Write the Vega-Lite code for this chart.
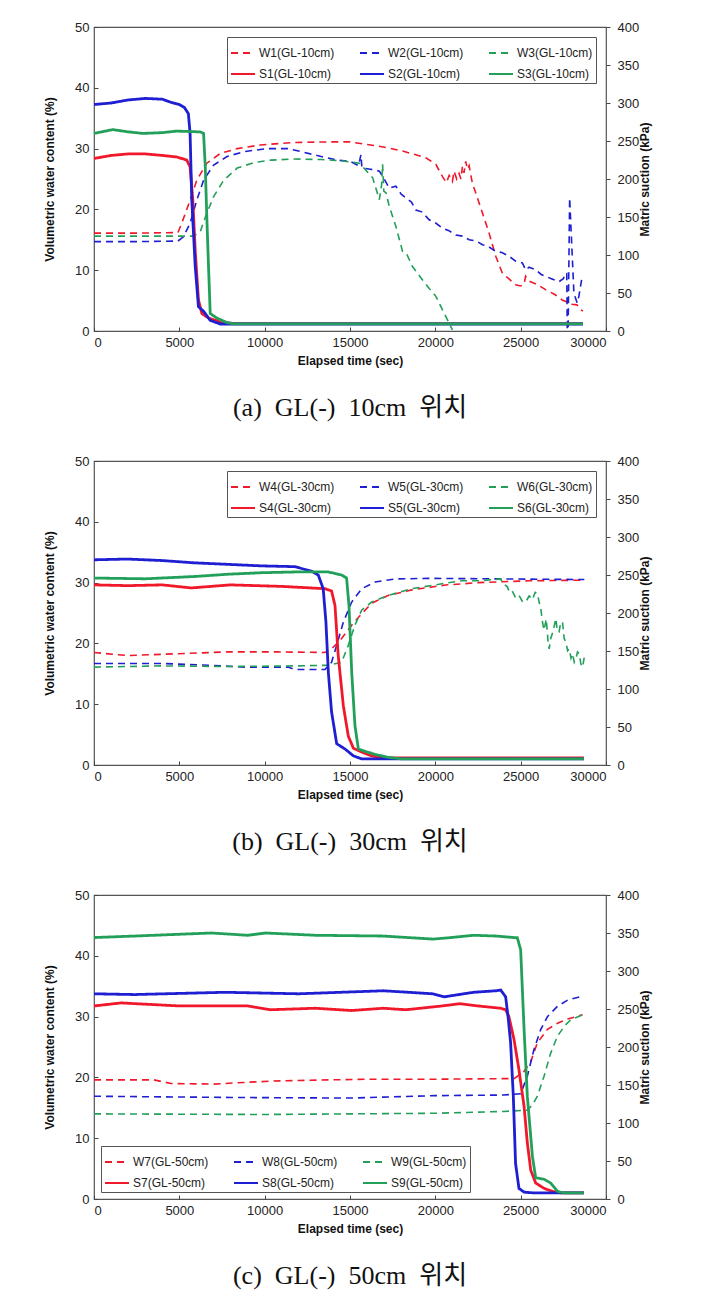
{
  "$schema": "https://vega.github.io/schema/vega-lite/v6.json",
  "background": "white",
  "padding": {"left": 42, "top": 20, "right": 5, "bottom": 5},
  "spacing": 32,
  "config": {
    "font": "Liberation Sans",
    "view": {"stroke": "#555", "strokeWidth": 1.2},
    "axis": {"labelFont": "Liberation Sans", "labelFontSize": 13, "labelColor": "#222", "titleFont": "Liberation Sans", "titleFontSize": 12, "titleFontWeight": "bold", "titleColor": "#111", "grid": false, "domain": false, "tickColor": "#444", "tickSize": 4, "labelPadding": 5},
    "axisBottom": {"titlePadding": 6, "tickSize": -4, "labelPadding": 9},
    "axisLeft": {"titlePadding": 18, "tickSize": -4, "labelPadding": 9},
    "axisRight": {"titlePadding": 13, "labelPadding": 7},
    "legend": {"title": null, "columns": 3, "direction": "horizontal", "symbolType": "stroke", "symbolSize": 576, "symbolStrokeWidth": 2, "labelFontSize": 12, "labelFont": "Liberation Sans", "labelColor": "#222", "labelOffset": 3, "labelLimit": 0, "strokeColor": "#555", "fillColor": "#ffffff", "padding": 3, "rowPadding": 2, "columnPadding": 21}
  },
  "datasets": {
    "aW": [
      {"s":"W1(GL-10cm)","t":0,"v":16.1},{"s":"W1(GL-10cm)","t":2500,"v":16.1},{"s":"W1(GL-10cm)","t":4920,"v":16.2},{"s":"W1(GL-10cm)","t":5140,"v":17.7},{"s":"W1(GL-10cm)","t":5630,"v":21.5},{"s":"W1(GL-10cm)","t":6020,"v":24.8},{"s":"W1(GL-10cm)","t":6610,"v":27.6},{"s":"W1(GL-10cm)","t":7400,"v":29.2},{"s":"W1(GL-10cm)","t":8390,"v":30.0},{"s":"W1(GL-10cm)","t":9760,"v":30.6},{"s":"W1(GL-10cm)","t":11730,"v":31.0},{"s":"W1(GL-10cm)","t":13700,"v":31.1},{"s":"W1(GL-10cm)","t":15000,"v":31.1},{"s":"W1(GL-10cm)","t":16700,"v":30.4},{"s":"W1(GL-10cm)","t":18080,"v":29.6},{"s":"W1(GL-10cm)","t":19440,"v":28.5},{"s":"W1(GL-10cm)","t":20030,"v":27.4},{"s":"W1(GL-10cm)","t":20420,"v":25.4},{"s":"W1(GL-10cm)","t":20650,"v":24.4},{"s":"W1(GL-10cm)","t":20810,"v":25.6},{"s":"W1(GL-10cm)","t":21000,"v":24.6},{"s":"W1(GL-10cm)","t":21100,"v":26.3},{"s":"W1(GL-10cm)","t":21250,"v":25.0},{"s":"W1(GL-10cm)","t":21390,"v":25.9},{"s":"W1(GL-10cm)","t":21500,"v":25.0},{"s":"W1(GL-10cm)","t":21590,"v":27.1},{"s":"W1(GL-10cm)","t":21680,"v":26.0},{"s":"W1(GL-10cm)","t":21780,"v":27.9},{"s":"W1(GL-10cm)","t":21880,"v":26.6},{"s":"W1(GL-10cm)","t":21980,"v":27.2},{"s":"W1(GL-10cm)","t":22170,"v":24.3},{"s":"W1(GL-10cm)","t":22370,"v":22.7},{"s":"W1(GL-10cm)","t":22750,"v":19.5},{"s":"W1(GL-10cm)","t":23150,"v":16.1},{"s":"W1(GL-10cm)","t":23540,"v":12.3},{"s":"W1(GL-10cm)","t":23930,"v":9.5},{"s":"W1(GL-10cm)","t":24300,"v":8.6},{"s":"W1(GL-10cm)","t":24710,"v":7.6},{"s":"W1(GL-10cm)","t":25000,"v":7.4},{"s":"W1(GL-10cm)","t":25200,"v":7.7},{"s":"W1(GL-10cm)","t":25290,"v":9.0},{"s":"W1(GL-10cm)","t":25500,"v":8.2},{"s":"W1(GL-10cm)","t":26000,"v":7.6},{"s":"W1(GL-10cm)","t":26460,"v":6.8},{"s":"W1(GL-10cm)","t":27000,"v":6.0},{"s":"W1(GL-10cm)","t":27440,"v":5.1},{"s":"W1(GL-10cm)","t":28000,"v":4.4},{"s":"W1(GL-10cm)","t":28300,"v":4.3},{"s":"W1(GL-10cm)","t":28510,"v":3.5},{"s":"W1(GL-10cm)","t":28650,"v":3.3},
      {"s":"W2(GL-10cm)","t":0,"v":14.7},{"s":"W2(GL-10cm)","t":2500,"v":14.7},{"s":"W2(GL-10cm)","t":4920,"v":14.8},{"s":"W2(GL-10cm)","t":5240,"v":15.5},{"s":"W2(GL-10cm)","t":5630,"v":17.7},{"s":"W2(GL-10cm)","t":6020,"v":21.5},{"s":"W2(GL-10cm)","t":6420,"v":24.8},{"s":"W2(GL-10cm)","t":7010,"v":27.3},{"s":"W2(GL-10cm)","t":7800,"v":28.7},{"s":"W2(GL-10cm)","t":8780,"v":29.5},{"s":"W2(GL-10cm)","t":10160,"v":30.0},{"s":"W2(GL-10cm)","t":11340,"v":30.0},{"s":"W2(GL-10cm)","t":12130,"v":29.5},{"s":"W2(GL-10cm)","t":13310,"v":28.7},{"s":"W2(GL-10cm)","t":14290,"v":28.1},{"s":"W2(GL-10cm)","t":15000,"v":27.9},{"s":"W2(GL-10cm)","t":15500,"v":27.2},{"s":"W2(GL-10cm)","t":15640,"v":29.0},{"s":"W2(GL-10cm)","t":15700,"v":26.8},{"s":"W2(GL-10cm)","t":16200,"v":26.6},{"s":"W2(GL-10cm)","t":16720,"v":26.3},{"s":"W2(GL-10cm)","t":17000,"v":25.0},{"s":"W2(GL-10cm)","t":17300,"v":23.5},{"s":"W2(GL-10cm)","t":17690,"v":23.8},{"s":"W2(GL-10cm)","t":18000,"v":22.5},{"s":"W2(GL-10cm)","t":18270,"v":21.9},{"s":"W2(GL-10cm)","t":18600,"v":21.2},{"s":"W2(GL-10cm)","t":18860,"v":19.9},{"s":"W2(GL-10cm)","t":19200,"v":19.6},{"s":"W2(GL-10cm)","t":19640,"v":18.3},{"s":"W2(GL-10cm)","t":20000,"v":17.8},{"s":"W2(GL-10cm)","t":20420,"v":16.9},{"s":"W2(GL-10cm)","t":20800,"v":16.5},{"s":"W2(GL-10cm)","t":21200,"v":15.8},{"s":"W2(GL-10cm)","t":21600,"v":15.6},{"s":"W2(GL-10cm)","t":21980,"v":15.0},{"s":"W2(GL-10cm)","t":22400,"v":14.8},{"s":"W2(GL-10cm)","t":22760,"v":14.2},{"s":"W2(GL-10cm)","t":23100,"v":13.9},{"s":"W2(GL-10cm)","t":23540,"v":13.1},{"s":"W2(GL-10cm)","t":23900,"v":12.9},{"s":"W2(GL-10cm)","t":24320,"v":12.3},{"s":"W2(GL-10cm)","t":24700,"v":11.5},{"s":"W2(GL-10cm)","t":25100,"v":11.2},{"s":"W2(GL-10cm)","t":25300,"v":10.0},{"s":"W2(GL-10cm)","t":25490,"v":10.5},{"s":"W2(GL-10cm)","t":25880,"v":10.1},{"s":"W2(GL-10cm)","t":26200,"v":9.3},{"s":"W2(GL-10cm)","t":26460,"v":9.0},{"s":"W2(GL-10cm)","t":26800,"v":8.6},{"s":"W2(GL-10cm)","t":27240,"v":8.1},{"s":"W2(GL-10cm)","t":27500,"v":8.6},{"s":"W2(GL-10cm)","t":27630,"v":9.5},{"s":"W2(GL-10cm)","t":27700,"v":9.5},{"s":"W2(GL-10cm)","t":27730,"v":0.2},{"s":"W2(GL-10cm)","t":27780,"v":0.2},{"s":"W2(GL-10cm)","t":27870,"v":21.9},{"s":"W2(GL-10cm)","t":27980,"v":15.0},{"s":"W2(GL-10cm)","t":28120,"v":6.2},{"s":"W2(GL-10cm)","t":28310,"v":4.6},{"s":"W2(GL-10cm)","t":28410,"v":5.7},{"s":"W2(GL-10cm)","t":28570,"v":8.4},
      {"s":"W3(GL-10cm)","t":0,"v":15.6},{"s":"W3(GL-10cm)","t":2500,"v":15.6},{"s":"W3(GL-10cm)","t":5830,"v":15.6},{"s":"W3(GL-10cm)","t":6220,"v":16.3},{"s":"W3(GL-10cm)","t":6610,"v":19.4},{"s":"W3(GL-10cm)","t":7010,"v":22.1},{"s":"W3(GL-10cm)","t":7600,"v":24.8},{"s":"W3(GL-10cm)","t":8390,"v":26.8},{"s":"W3(GL-10cm)","t":9370,"v":27.7},{"s":"W3(GL-10cm)","t":10350,"v":28.1},{"s":"W3(GL-10cm)","t":11730,"v":28.3},{"s":"W3(GL-10cm)","t":13310,"v":28.2},{"s":"W3(GL-10cm)","t":14490,"v":28.0},{"s":"W3(GL-10cm)","t":15550,"v":27.6},{"s":"W3(GL-10cm)","t":16330,"v":25.2},{"s":"W3(GL-10cm)","t":16720,"v":21.6},{"s":"W3(GL-10cm)","t":16850,"v":24.0},{"s":"W3(GL-10cm)","t":16910,"v":27.4},{"s":"W3(GL-10cm)","t":16980,"v":23.0},{"s":"W3(GL-10cm)","t":17110,"v":22.7},{"s":"W3(GL-10cm)","t":17300,"v":20.5},{"s":"W3(GL-10cm)","t":17690,"v":17.2},{"s":"W3(GL-10cm)","t":18080,"v":13.1},{"s":"W3(GL-10cm)","t":18300,"v":12.8},{"s":"W3(GL-10cm)","t":18660,"v":10.6},{"s":"W3(GL-10cm)","t":19250,"v":8.4},{"s":"W3(GL-10cm)","t":19640,"v":7.0},{"s":"W3(GL-10cm)","t":20030,"v":5.7},{"s":"W3(GL-10cm)","t":20520,"v":2.9},{"s":"W3(GL-10cm)","t":21000,"v":0.2}
    ],
    "aS": [
      {"s":"S1(GL-10cm)","t":0,"v":227},{"s":"S1(GL-10cm)","t":1000,"v":231},{"s":"S1(GL-10cm)","t":2000,"v":233},{"s":"S1(GL-10cm)","t":3000,"v":233},{"s":"S1(GL-10cm)","t":4000,"v":231},{"s":"S1(GL-10cm)","t":4840,"v":229},{"s":"S1(GL-10cm)","t":5430,"v":225},{"s":"S1(GL-10cm)","t":5630,"v":216},{"s":"S1(GL-10cm)","t":5790,"v":172},{"s":"S1(GL-10cm)","t":5930,"v":106},{"s":"S1(GL-10cm)","t":6120,"v":41},{"s":"S1(GL-10cm)","t":6320,"v":23},{"s":"S1(GL-10cm)","t":6710,"v":17},{"s":"S1(GL-10cm)","t":7400,"v":12},{"s":"S1(GL-10cm)","t":8190,"v":9.8},{"s":"S1(GL-10cm)","t":28650,"v":9.8},
      {"s":"S2(GL-10cm)","t":0,"v":298},{"s":"S2(GL-10cm)","t":1000,"v":300},{"s":"S2(GL-10cm)","t":2000,"v":304},{"s":"S2(GL-10cm)","t":3000,"v":306},{"s":"S2(GL-10cm)","t":4000,"v":305},{"s":"S2(GL-10cm)","t":4500,"v":301},{"s":"S2(GL-10cm)","t":5000,"v":298},{"s":"S2(GL-10cm)","t":5300,"v":294},{"s":"S2(GL-10cm)","t":5530,"v":286},{"s":"S2(GL-10cm)","t":5630,"v":260},{"s":"S2(GL-10cm)","t":5730,"v":172},{"s":"S2(GL-10cm)","t":5930,"v":85},{"s":"S2(GL-10cm)","t":6120,"v":32},{"s":"S2(GL-10cm)","t":6420,"v":26},{"s":"S2(GL-10cm)","t":6810,"v":14},{"s":"S2(GL-10cm)","t":7400,"v":9.2},{"s":"S2(GL-10cm)","t":28650,"v":9.2},
      {"s":"S3(GL-10cm)","t":0,"v":260},{"s":"S3(GL-10cm)","t":1100,"v":265},{"s":"S3(GL-10cm)","t":2000,"v":262},{"s":"S3(GL-10cm)","t":2870,"v":260},{"s":"S3(GL-10cm)","t":4000,"v":261},{"s":"S3(GL-10cm)","t":4840,"v":263},{"s":"S3(GL-10cm)","t":6220,"v":262},{"s":"S3(GL-10cm)","t":6420,"v":260},{"s":"S3(GL-10cm)","t":6520,"v":216},{"s":"S3(GL-10cm)","t":6610,"v":150},{"s":"S3(GL-10cm)","t":6710,"v":85},{"s":"S3(GL-10cm)","t":6810,"v":23},{"s":"S3(GL-10cm)","t":7200,"v":17},{"s":"S3(GL-10cm)","t":7800,"v":11},{"s":"S3(GL-10cm)","t":8190,"v":9.4},{"s":"S3(GL-10cm)","t":28650,"v":9.4}
    ],
    "bW": [
      {"s":"W4(GL-30cm)","t":0,"v":18.5},{"s":"W4(GL-30cm)","t":1960,"v":18.0},{"s":"W4(GL-30cm)","t":4900,"v":18.3},{"s":"W4(GL-30cm)","t":7840,"v":18.6},{"s":"W4(GL-30cm)","t":10780,"v":18.6},{"s":"W4(GL-30cm)","t":13530,"v":18.5},{"s":"W4(GL-30cm)","t":13920,"v":19.1},{"s":"W4(GL-30cm)","t":14510,"v":20.8},{"s":"W4(GL-30cm)","t":15100,"v":23.0},{"s":"W4(GL-30cm)","t":15690,"v":24.9},{"s":"W4(GL-30cm)","t":16270,"v":26.6},{"s":"W4(GL-30cm)","t":17250,"v":27.9},{"s":"W4(GL-30cm)","t":18630,"v":28.8},{"s":"W4(GL-30cm)","t":20590,"v":29.6},{"s":"W4(GL-30cm)","t":22550,"v":30.0},{"s":"W4(GL-30cm)","t":25490,"v":30.3},{"s":"W4(GL-30cm)","t":28730,"v":30.4},
      {"s":"W5(GL-30cm)","t":0,"v":16.7},{"s":"W5(GL-30cm)","t":3920,"v":16.7},{"s":"W5(GL-30cm)","t":6860,"v":16.4},{"s":"W5(GL-30cm)","t":8820,"v":16.1},{"s":"W5(GL-30cm)","t":11370,"v":16.1},{"s":"W5(GL-30cm)","t":11760,"v":15.7},{"s":"W5(GL-30cm)","t":13530,"v":15.7},{"s":"W5(GL-30cm)","t":13920,"v":16.9},{"s":"W5(GL-30cm)","t":14220,"v":19.7},{"s":"W5(GL-30cm)","t":14610,"v":23.5},{"s":"W5(GL-30cm)","t":15100,"v":26.8},{"s":"W5(GL-30cm)","t":15690,"v":29.0},{"s":"W5(GL-30cm)","t":16470,"v":30.1},{"s":"W5(GL-30cm)","t":17650,"v":30.6},{"s":"W5(GL-30cm)","t":19610,"v":30.7},{"s":"W5(GL-30cm)","t":28730,"v":30.5},
      {"s":"W6(GL-30cm)","t":0,"v":16.1},{"s":"W6(GL-30cm)","t":3920,"v":16.3},{"s":"W6(GL-30cm)","t":7840,"v":16.2},{"s":"W6(GL-30cm)","t":11760,"v":16.3},{"s":"W6(GL-30cm)","t":13730,"v":16.4},{"s":"W6(GL-30cm)","t":14510,"v":16.9},{"s":"W6(GL-30cm)","t":14900,"v":19.7},{"s":"W6(GL-30cm)","t":15290,"v":23.0},{"s":"W6(GL-30cm)","t":15690,"v":25.5},{"s":"W6(GL-30cm)","t":16270,"v":26.8},{"s":"W6(GL-30cm)","t":17250,"v":27.9},{"s":"W6(GL-30cm)","t":18630,"v":29.0},{"s":"W6(GL-30cm)","t":20590,"v":29.9},{"s":"W6(GL-30cm)","t":21570,"v":30.3},{"s":"W6(GL-30cm)","t":22550,"v":30.3},{"s":"W6(GL-30cm)","t":23820,"v":30.6},{"s":"W6(GL-30cm)","t":24000,"v":29.8},{"s":"W6(GL-30cm)","t":24220,"v":29.3},{"s":"W6(GL-30cm)","t":24350,"v":28.4},{"s":"W6(GL-30cm)","t":24510,"v":28.6},{"s":"W6(GL-30cm)","t":24700,"v":27.5},{"s":"W6(GL-30cm)","t":24900,"v":27.9},{"s":"W6(GL-30cm)","t":25100,"v":26.9},{"s":"W6(GL-30cm)","t":25290,"v":26.8},{"s":"W6(GL-30cm)","t":25500,"v":27.8},{"s":"W6(GL-30cm)","t":25690,"v":27.2},{"s":"W6(GL-30cm)","t":25850,"v":28.4},{"s":"W6(GL-30cm)","t":25980,"v":28.2},{"s":"W6(GL-30cm)","t":26080,"v":26.8},{"s":"W6(GL-30cm)","t":26180,"v":25.7},{"s":"W6(GL-30cm)","t":26280,"v":23.5},{"s":"W6(GL-30cm)","t":26370,"v":22.2},{"s":"W6(GL-30cm)","t":26500,"v":24.0},{"s":"W6(GL-30cm)","t":26600,"v":20.5},{"s":"W6(GL-30cm)","t":26670,"v":19.1},{"s":"W6(GL-30cm)","t":26760,"v":20.8},{"s":"W6(GL-30cm)","t":26900,"v":22.0},{"s":"W6(GL-30cm)","t":27060,"v":24.1},{"s":"W6(GL-30cm)","t":27150,"v":22.0},{"s":"W6(GL-30cm)","t":27250,"v":21.9},{"s":"W6(GL-30cm)","t":27350,"v":23.5},{"s":"W6(GL-30cm)","t":27450,"v":23.5},{"s":"W6(GL-30cm)","t":27550,"v":20.8},{"s":"W6(GL-30cm)","t":27650,"v":20.2},{"s":"W6(GL-30cm)","t":27750,"v":18.8},{"s":"W6(GL-30cm)","t":27840,"v":19.1},{"s":"W6(GL-30cm)","t":27950,"v":17.6},{"s":"W6(GL-30cm)","t":28040,"v":18.3},{"s":"W6(GL-30cm)","t":28140,"v":16.9},{"s":"W6(GL-30cm)","t":28240,"v":17.5},{"s":"W6(GL-30cm)","t":28330,"v":18.6},{"s":"W6(GL-30cm)","t":28430,"v":18.3},{"s":"W6(GL-30cm)","t":28530,"v":16.6},{"s":"W6(GL-30cm)","t":28630,"v":16.1},{"s":"W6(GL-30cm)","t":28730,"v":17.8}
    ],
    "bS": [
      {"s":"S4(GL-30cm)","t":0,"v":237},{"s":"S4(GL-30cm)","t":2000,"v":236},{"s":"S4(GL-30cm)","t":4000,"v":237},{"s":"S4(GL-30cm)","t":5690,"v":233},{"s":"S4(GL-30cm)","t":8000,"v":237},{"s":"S4(GL-30cm)","t":11000,"v":235},{"s":"S4(GL-30cm)","t":13530,"v":232},{"s":"S4(GL-30cm)","t":13920,"v":229},{"s":"S4(GL-30cm)","t":14120,"v":210},{"s":"S4(GL-30cm)","t":14310,"v":144},{"s":"S4(GL-30cm)","t":14610,"v":78},{"s":"S4(GL-30cm)","t":14900,"v":38},{"s":"S4(GL-30cm)","t":15200,"v":22},{"s":"S4(GL-30cm)","t":15690,"v":17},{"s":"S4(GL-30cm)","t":16270,"v":12},{"s":"S4(GL-30cm)","t":17060,"v":9.2},{"s":"S4(GL-30cm)","t":28700,"v":9.2},
      {"s":"S5(GL-30cm)","t":0,"v":270},{"s":"S5(GL-30cm)","t":1960,"v":271},{"s":"S5(GL-30cm)","t":4000,"v":269},{"s":"S5(GL-30cm)","t":5880,"v":266},{"s":"S5(GL-30cm)","t":7840,"v":264},{"s":"S5(GL-30cm)","t":9800,"v":262},{"s":"S5(GL-30cm)","t":11760,"v":261},{"s":"S5(GL-30cm)","t":12750,"v":255},{"s":"S5(GL-30cm)","t":13140,"v":250},{"s":"S5(GL-30cm)","t":13430,"v":232},{"s":"S5(GL-30cm)","t":13590,"v":188},{"s":"S5(GL-30cm)","t":13730,"v":122},{"s":"S5(GL-30cm)","t":13920,"v":70},{"s":"S5(GL-30cm)","t":14220,"v":28},{"s":"S5(GL-30cm)","t":14710,"v":21},{"s":"S5(GL-30cm)","t":15200,"v":12},{"s":"S5(GL-30cm)","t":15690,"v":8},{"s":"S5(GL-30cm)","t":28700,"v":8},
      {"s":"S6(GL-30cm)","t":0,"v":246},{"s":"S6(GL-30cm)","t":3000,"v":245},{"s":"S6(GL-30cm)","t":5880,"v":248},{"s":"S6(GL-30cm)","t":7840,"v":251},{"s":"S6(GL-30cm)","t":9800,"v":253},{"s":"S6(GL-30cm)","t":11760,"v":254},{"s":"S6(GL-30cm)","t":13730,"v":254},{"s":"S6(GL-30cm)","t":14510,"v":250},{"s":"S6(GL-30cm)","t":14800,"v":246},{"s":"S6(GL-30cm)","t":14940,"v":210},{"s":"S6(GL-30cm)","t":15100,"v":122},{"s":"S6(GL-30cm)","t":15290,"v":52},{"s":"S6(GL-30cm)","t":15490,"v":21},{"s":"S6(GL-30cm)","t":15880,"v":18},{"s":"S6(GL-30cm)","t":16470,"v":14},{"s":"S6(GL-30cm)","t":17250,"v":10},{"s":"S6(GL-30cm)","t":18040,"v":8},{"s":"S6(GL-30cm)","t":28700,"v":8}
    ],
    "cW": [
      {"s":"W7(GL-50cm)","t":0,"v":19.6},{"s":"W7(GL-50cm)","t":3500,"v":19.6},{"s":"W7(GL-50cm)","t":4500,"v":19.0},{"s":"W7(GL-50cm)","t":7000,"v":18.9},{"s":"W7(GL-50cm)","t":9000,"v":19.2},{"s":"W7(GL-50cm)","t":10500,"v":19.4},{"s":"W7(GL-50cm)","t":12000,"v":19.5},{"s":"W7(GL-50cm)","t":16000,"v":19.7},{"s":"W7(GL-50cm)","t":20000,"v":19.7},{"s":"W7(GL-50cm)","t":24000,"v":19.8},{"s":"W7(GL-50cm)","t":24610,"v":19.8},{"s":"W7(GL-50cm)","t":25200,"v":21.0},{"s":"W7(GL-50cm)","t":25590,"v":22.6},{"s":"W7(GL-50cm)","t":25980,"v":25.7},{"s":"W7(GL-50cm)","t":26570,"v":27.9},{"s":"W7(GL-50cm)","t":27160,"v":28.9},{"s":"W7(GL-50cm)","t":27750,"v":29.6},{"s":"W7(GL-50cm)","t":28630,"v":30.3},
      {"s":"W8(GL-50cm)","t":0,"v":16.9},{"s":"W8(GL-50cm)","t":8000,"v":16.7},{"s":"W8(GL-50cm)","t":15000,"v":16.6},{"s":"W8(GL-50cm)","t":20000,"v":17.0},{"s":"W8(GL-50cm)","t":24000,"v":17.1},{"s":"W8(GL-50cm)","t":25000,"v":17.3},{"s":"W8(GL-50cm)","t":25390,"v":20.2},{"s":"W8(GL-50cm)","t":25780,"v":24.6},{"s":"W8(GL-50cm)","t":26180,"v":27.9},{"s":"W8(GL-50cm)","t":26570,"v":30.0},{"s":"W8(GL-50cm)","t":27160,"v":31.7},{"s":"W8(GL-50cm)","t":27750,"v":32.7},{"s":"W8(GL-50cm)","t":28530,"v":33.3},
      {"s":"W9(GL-50cm)","t":0,"v":14.0},{"s":"W9(GL-50cm)","t":10000,"v":13.9},{"s":"W9(GL-50cm)","t":20000,"v":14.1},{"s":"W9(GL-50cm)","t":24000,"v":14.4},{"s":"W9(GL-50cm)","t":25390,"v":14.6},{"s":"W9(GL-50cm)","t":25690,"v":15.5},{"s":"W9(GL-50cm)","t":25980,"v":16.9},{"s":"W9(GL-50cm)","t":26370,"v":20.2},{"s":"W9(GL-50cm)","t":26760,"v":24.0},{"s":"W9(GL-50cm)","t":27160,"v":26.8},{"s":"W9(GL-50cm)","t":27550,"v":28.4},{"s":"W9(GL-50cm)","t":27940,"v":29.5},{"s":"W9(GL-50cm)","t":28630,"v":30.3}
    ],
    "cS": [
      {"s":"S7(GL-50cm)","t":0,"v":254},{"s":"S7(GL-50cm)","t":1590,"v":258},{"s":"S7(GL-50cm)","t":5030,"v":254},{"s":"S7(GL-50cm)","t":9000,"v":254},{"s":"S7(GL-50cm)","t":10330,"v":249},{"s":"S7(GL-50cm)","t":12970,"v":251},{"s":"S7(GL-50cm)","t":15090,"v":248},{"s":"S7(GL-50cm)","t":16950,"v":251},{"s":"S7(GL-50cm)","t":18270,"v":249},{"s":"S7(GL-50cm)","t":20390,"v":254},{"s":"S7(GL-50cm)","t":21450,"v":257},{"s":"S7(GL-50cm)","t":22510,"v":254},{"s":"S7(GL-50cm)","t":23830,"v":251},{"s":"S7(GL-50cm)","t":24120,"v":249},{"s":"S7(GL-50cm)","t":24310,"v":240},{"s":"S7(GL-50cm)","t":24610,"v":210},{"s":"S7(GL-50cm)","t":24900,"v":170},{"s":"S7(GL-50cm)","t":25200,"v":122},{"s":"S7(GL-50cm)","t":25390,"v":74},{"s":"S7(GL-50cm)","t":25590,"v":38},{"s":"S7(GL-50cm)","t":25880,"v":21},{"s":"S7(GL-50cm)","t":26370,"v":14},{"s":"S7(GL-50cm)","t":26860,"v":10},{"s":"S7(GL-50cm)","t":27350,"v":8},{"s":"S7(GL-50cm)","t":28700,"v":8},
      {"s":"S8(GL-50cm)","t":0,"v":270},{"s":"S8(GL-50cm)","t":2380,"v":269},{"s":"S8(GL-50cm)","t":7680,"v":272},{"s":"S8(GL-50cm)","t":12000,"v":270},{"s":"S8(GL-50cm)","t":16950,"v":274},{"s":"S8(GL-50cm)","t":19860,"v":270},{"s":"S8(GL-50cm)","t":20520,"v":266},{"s":"S8(GL-50cm)","t":22240,"v":272},{"s":"S8(GL-50cm)","t":23560,"v":274},{"s":"S8(GL-50cm)","t":23830,"v":275},{"s":"S8(GL-50cm)","t":24120,"v":266},{"s":"S8(GL-50cm)","t":24260,"v":240},{"s":"S8(GL-50cm)","t":24410,"v":206},{"s":"S8(GL-50cm)","t":24570,"v":135},{"s":"S8(GL-50cm)","t":24700,"v":47},{"s":"S8(GL-50cm)","t":24900,"v":14},{"s":"S8(GL-50cm)","t":25200,"v":9},{"s":"S8(GL-50cm)","t":25780,"v":8},{"s":"S8(GL-50cm)","t":28700,"v":8},
      {"s":"S9(GL-50cm)","t":0,"v":344},{"s":"S9(GL-50cm)","t":2380,"v":346},{"s":"S9(GL-50cm)","t":6880,"v":350},{"s":"S9(GL-50cm)","t":9000,"v":347},{"s":"S9(GL-50cm)","t":10060,"v":350},{"s":"S9(GL-50cm)","t":12970,"v":347},{"s":"S9(GL-50cm)","t":16950,"v":346},{"s":"S9(GL-50cm)","t":19860,"v":342},{"s":"S9(GL-50cm)","t":20920,"v":344},{"s":"S9(GL-50cm)","t":22240,"v":347},{"s":"S9(GL-50cm)","t":23560,"v":346},{"s":"S9(GL-50cm)","t":24620,"v":344},{"s":"S9(GL-50cm)","t":24800,"v":344},{"s":"S9(GL-50cm)","t":25000,"v":328},{"s":"S9(GL-50cm)","t":25200,"v":223},{"s":"S9(GL-50cm)","t":25390,"v":135},{"s":"S9(GL-50cm)","t":25690,"v":56},{"s":"S9(GL-50cm)","t":25880,"v":28},{"s":"S9(GL-50cm)","t":26370,"v":26},{"s":"S9(GL-50cm)","t":26760,"v":21},{"s":"S9(GL-50cm)","t":27160,"v":10},{"s":"S9(GL-50cm)","t":27550,"v":8},{"s":"S9(GL-50cm)","t":28700,"v":8}
    ]
  },
  "resolve": {"scale": {"color": "independent", "strokeDash": "independent"}, "legend": {"color": "independent", "strokeDash": "independent"}},
  "vconcat": [
    {
      "width": 512, "height": 304,
      "title": {"text": "(a)\u00a0 GL(-)\u00a0 10cm\u00a0 위치", "orient": "bottom", "anchor": "middle", "frame": "group", "offset": 29, "font": "Liberation Serif, Noto Sans CJK KR", "fontSize": 26, "fontWeight": "normal", "color": "#111"},
      "encoding": {
        "x": {"field": "t", "type": "quantitative", "scale": {"domain": [0, 30000], "nice": false}, "axis": {"title": "Elapsed time (sec)", "values": [0, 5000, 10000, 15000, 20000, 25000, 30000], "format": "d"}},
        "color": {"field": "s", "type": "nominal", "scale": {"domain": ["W1(GL-10cm)", "W2(GL-10cm)", "W3(GL-10cm)", "S1(GL-10cm)", "S2(GL-10cm)", "S3(GL-10cm)"], "range": ["#f0182a", "#1e1ed2", "#22a05a", "#f0182a", "#1e1ed2", "#22a05a"]}, "legend": {"orient": "top-right", "offset": 10}},
        "strokeDash": {"field": "s", "type": "nominal", "scale": {"domain": ["W1(GL-10cm)", "W2(GL-10cm)", "W3(GL-10cm)", "S1(GL-10cm)", "S2(GL-10cm)", "S3(GL-10cm)"], "range": [[7, 5], [7, 5], [7, 5], [1, 0], [1, 0], [1, 0]]}, "legend": {"orient": "top-right", "offset": 10}}
      },
      "layer": [
        {"data": {"name": "aW"}, "mark": {"type": "line", "strokeWidth": 1.6},
         "encoding": {"y": {"field": "v", "type": "quantitative", "scale": {"domain": [0, 50], "nice": false}, "axis": {"title": "Volumetric water content (%)", "values": [0, 10, 20, 30, 40, 50], "orient": "left"}}}},
        {"data": {"name": "aS"}, "mark": {"type": "line", "strokeWidth": 2.8},
         "encoding": {"y": {"field": "v", "type": "quantitative", "scale": {"domain": [0, 400], "nice": false}, "axis": {"title": "Matric suction (kPa)", "values": [0, 50, 100, 150, 200, 250, 300, 350, 400], "orient": "right", "titleAngle": 270}}}}
      ],
      "resolve": {"scale": {"y": "independent"}}
    },
    {
      "width": 512, "height": 304,
      "title": {"text": "(b)\u00a0 GL(-)\u00a0 30cm\u00a0 위치", "orient": "bottom", "anchor": "middle", "frame": "group", "offset": 29, "font": "Liberation Serif, Noto Sans CJK KR", "fontSize": 26, "fontWeight": "normal", "color": "#111"},
      "encoding": {
        "x": {"field": "t", "type": "quantitative", "scale": {"domain": [0, 30000], "nice": false}, "axis": {"title": "Elapsed time (sec)", "values": [0, 5000, 10000, 15000, 20000, 25000, 30000], "format": "d"}},
        "color": {"field": "s", "type": "nominal", "scale": {"domain": ["W4(GL-30cm)", "W5(GL-30cm)", "W6(GL-30cm)", "S4(GL-30cm)", "S5(GL-30cm)", "S6(GL-30cm)"], "range": ["#f0182a", "#1e1ed2", "#22a05a", "#f0182a", "#1e1ed2", "#22a05a"]}, "legend": {"orient": "top-right", "offset": 10}},
        "strokeDash": {"field": "s", "type": "nominal", "scale": {"domain": ["W4(GL-30cm)", "W5(GL-30cm)", "W6(GL-30cm)", "S4(GL-30cm)", "S5(GL-30cm)", "S6(GL-30cm)"], "range": [[7, 5], [7, 5], [7, 5], [1, 0], [1, 0], [1, 0]]}, "legend": {"orient": "top-right", "offset": 10}}
      },
      "layer": [
        {"data": {"name": "bW"}, "mark": {"type": "line", "strokeWidth": 1.6},
         "encoding": {"y": {"field": "v", "type": "quantitative", "scale": {"domain": [0, 50], "nice": false}, "axis": {"title": "Volumetric water content (%)", "values": [0, 10, 20, 30, 40, 50], "orient": "left"}}}},
        {"data": {"name": "bS"}, "mark": {"type": "line", "strokeWidth": 2.8},
         "encoding": {"y": {"field": "v", "type": "quantitative", "scale": {"domain": [0, 400], "nice": false}, "axis": {"title": "Matric suction (kPa)", "values": [0, 50, 100, 150, 200, 250, 300, 350, 400], "orient": "right", "titleAngle": 270}}}}
      ],
      "resolve": {"scale": {"y": "independent"}}
    },
    {
      "width": 512, "height": 304,
      "title": {"text": "(c)\u00a0 GL(-)\u00a0 50cm\u00a0 위치", "orient": "bottom", "anchor": "middle", "frame": "group", "offset": 29, "font": "Liberation Serif, Noto Sans CJK KR", "fontSize": 26, "fontWeight": "normal", "color": "#111"},
      "encoding": {
        "x": {"field": "t", "type": "quantitative", "scale": {"domain": [0, 30000], "nice": false}, "axis": {"title": "Elapsed time (sec)", "values": [0, 5000, 10000, 15000, 20000, 25000, 30000], "format": "d"}},
        "color": {"field": "s", "type": "nominal", "scale": {"domain": ["W7(GL-50cm)", "W8(GL-50cm)", "W9(GL-50cm)", "S7(GL-50cm)", "S8(GL-50cm)", "S9(GL-50cm)"], "range": ["#f0182a", "#1e1ed2", "#22a05a", "#f0182a", "#1e1ed2", "#22a05a"]}, "legend": {"orient": "bottom-left", "offset": 7}},
        "strokeDash": {"field": "s", "type": "nominal", "scale": {"domain": ["W7(GL-50cm)", "W8(GL-50cm)", "W9(GL-50cm)", "S7(GL-50cm)", "S8(GL-50cm)", "S9(GL-50cm)"], "range": [[7, 5], [7, 5], [7, 5], [1, 0], [1, 0], [1, 0]]}, "legend": {"orient": "bottom-left", "offset": 7}}
      },
      "layer": [
        {"data": {"name": "cW"}, "mark": {"type": "line", "strokeWidth": 1.6},
         "encoding": {"y": {"field": "v", "type": "quantitative", "scale": {"domain": [0, 50], "nice": false}, "axis": {"title": "Volumetric water content (%)", "values": [0, 10, 20, 30, 40, 50], "orient": "left"}}}},
        {"data": {"name": "cS"}, "mark": {"type": "line", "strokeWidth": 2.8},
         "encoding": {"y": {"field": "v", "type": "quantitative", "scale": {"domain": [0, 400], "nice": false}, "axis": {"title": "Matric suction (kPa)", "values": [0, 50, 100, 150, 200, 250, 300, 350, 400], "orient": "right", "titleAngle": 270}}}}
      ],
      "resolve": {"scale": {"y": "independent"}}
    }
  ]
}
